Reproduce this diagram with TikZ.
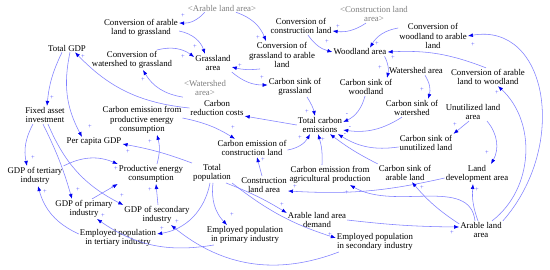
\documentclass[tikz,border=0pt]{standalone}
\usepackage{fontspec}
\setmainfont{Liberation Serif}
\usepackage{tikz}
\usetikzlibrary{arrows.meta}
\definecolor{CLLine}{HTML}{7F7FFF}
\definecolor{CLHead}{HTML}{0000F0}
\definecolor{CLSign}{HTML}{5555FF}
\definecolor{CLShadow}{HTML}{808080}
\newcommand{\CLfont}{\fontsize{8.8}{9.6}\selectfont}

\begin{document}
\begin{tikzpicture}[x=1pt,y=1pt,>=Latex]
\tikzset{mvar/.style={align=center,inner sep=1pt,font=\CLfont},mshadow/.style={mvar,text=CLShadow},mlink/.style={draw=CLLine,line width=.55pt,-{Latex[length=5pt,width=3.8pt,color=CLHead]}},msign/.style={inner sep=0pt,font=\fontsize{6.5}{6.5}\selectfont,text=CLSign}}
\fill[white] (0,0) rectangle (550,-270);
\useasboundingbox (0,0) rectangle (550,-270);
% land use part
\node[mshadow] (arableS) at (222,-8) {<Arable land area>};
\node[mshadow] (constrS) at (374,-14) {<Construction land\\area>};
\node[mvar] (cag) at (141,-28) {Conversion of arable\\land to grassland};
\node[mvar] (ccl) at (301,-26) {Conversion of\\construction land};
\node[mvar] (cwa) at (433,-36) {Conversion of\\woodland to arable\\land};
\node[mvar] (grass) at (213,-63) {Grassland\\area};
\node[mvar] (cga) at (282,-55) {Conversion of\\grassland to arable\\land};
\node[mvar] (wood) at (360,-52) {Woodland area};
\node[mvar] (cwg) at (132,-60) {Conversion of\\watershed to grassland};
\node[mshadow] (watS) at (205,-88) {<Watershed\\area>};
\node[mvar] (wsa) at (416,-71) {Watershed area};
\node[mvar] (caw) at (488,-77) {Conversion of arable\\land to woodland};
\node[mvar] (ula) at (473,-112) {Unutilized land\\area};
\node[mvar] (cla) at (264,-185) {Construction\\land area};
\node[mvar] (lda) at (477,-174) {Land\\development area};
\node[mvar] (alad) at (317,-220) {Arable land area\\demand};
\node[mvar] (ala) at (481,-230) {Arable land\\area};
% carbon part
\node[mvar] (csg) at (295,-87) {Carbon sink of\\grassland};
\node[mvar] (csw) at (366,-87) {Carbon sink of\\woodland};
\node[mvar] (csws) at (412,-108) {Carbon sink of\\watershed};
\node[mvar] (csu) at (426,-143) {Carbon sink of\\unutilized land};
\node[mvar] (csa) at (405,-173) {Carbon sink of\\arable land};
\node[mvar] (tce) at (320,-125) {Total carbon\\emissions};
\node[mvar] (crc) at (217,-108) {Carbon\\reduction costs};
\node[mvar] (cecl) at (252,-148) {Carbon emission of\\construction land};
\node[mvar] (ceap) at (330,-175) {Carbon emission from\\agricultural production};
\node[mvar] (cepe) at (142,-120) {Carbon emission from\\productive energy\\consumption};
% economy part
\node[mvar] (gdp) at (67,-48) {Total GDP};
\node[mvar] (fai) at (45,-115) {Fixed asset\\investment};
\node[mvar] (pcg) at (94,-142) {Per capita GDP};
\node[mvar] (pec) at (151,-174) {Productive energy\\consumption};
\node[mvar] (gdp3) at (35,-176) {GDP of tertiary\\industry};
\node[mvar] (gdp1) at (84,-209) {GDP of primary\\industry};
\node[mvar] (gdp2) at (157,-215) {GDP of secondary\\industry};
\node[mvar] (pop) at (212,-173) {Total\\population};
\node[mvar] (ep3) at (118,-238) {Employed population\\in tertiary industry};
\node[mvar] (ep1) at (245,-235) {Employed population\\in primary industry};
\node[mvar] (ep2) at (375,-242) {Employed population\\in secondary industry};
% links
\draw[mlink] ([xshift=18pt]arableS.south west) to[bend left=25] ([yshift=5pt]cag.east);
\draw[mlink] ([xshift=14pt]arableS.south) to[bend left=25] ([xshift=-16pt]cga.north);
\draw[mlink] ([yshift=-3pt]cag.east) to[bend left=30] ([xshift=-8pt]grass.north);
\draw[mlink] ([xshift=25pt]cwg.north) to[bend left=25] ([yshift=6pt]grass.west);
\draw[mlink] ([xshift=-22pt]cga.south) to[bend left=10] ([yshift=-4pt]grass.east);
\draw[mlink] (grass.south east) to[bend right=20] ([yshift=2pt]csg.west);
\draw[mlink] (watS.south west) to[bend left=25] ([xshift=11pt]cwg.south);
\draw[mlink] ([xshift=-8pt]constrS.south) to[bend left=20] ([yshift=-5pt]ccl.east);
\draw[mlink] ([xshift=7pt]ccl.south) to[bend right=20] (wood.west);
\draw[mlink] ([yshift=8pt]cwa.west) to[bend right=25] ([xshift=10pt]wood.north);
\draw[mlink] ([xshift=-2pt]caw.north) to[bend right=12] (wood.east);
\draw[mlink] ([xshift=-3pt]wood.south east) to[bend left=20] ([xshift=21pt]csw.north);
\draw[mlink] ([xshift=9pt]wsa.south) to[bend left=25] ([xshift=16pt]csws.north);
\draw[mlink] ([xshift=14pt]ula.south) to[bend left=35] ([xshift=14pt]lda.north);
\draw[mlink] ([xshift=-4pt]ula.south) -- (csu.north east);
\draw[mlink] ([yshift=-4pt]lda.west) to[bend left=8] ([yshift=-6pt]cla.east);
\draw[mlink] (alad.east) to[bend right=3] ([yshift=3pt]ala.west);
\draw[mlink] ([yshift=-3pt]ala.north west) to[bend left=8] ([xshift=7pt]csa.south);
\draw[mlink] ([xshift=-3pt]ala.north) to[bend left=12] ([xshift=-4pt]lda.south);
\draw[mlink] ([xshift=-6pt]ala.north) .. controls +(-5,45) and +(45,-26) .. ([xshift=20pt]ceap.south);
\draw[mlink] ([xshift=11pt]ala.north) to[bend right=50] ([xshift=10pt]caw.south);
\draw[mlink] (ala.north east) .. controls +(66,75) and +(80,14) .. (cwa.east);
\draw[mlink] ([xshift=12pt]csg.south) to[bend left=10] ([xshift=-5pt]tce.north);
\draw[mlink] ([xshift=-1pt]csw.south) to[bend left=25] ([yshift=3pt]tce.east);
\draw[mlink] ([xshift=-10pt]csws.south) to[bend left=20] ([yshift=-5pt]tce.east);
\draw[mlink] ([yshift=-4pt]csu.west) to[bend left=20] ([xshift=18pt]tce.south);
\draw[mlink] (csa.north west) to[bend left=5] ([xshift=10pt]tce.south);
\draw[mlink] ([xshift=-8pt]ceap.north) to[bend right=10] ([xshift=-2pt]tce.south);
\draw[mlink] ([yshift=-2pt]cecl.east) to[bend right=25] ([xshift=-10pt]tce.south);
\draw[mlink] ([xshift=-2pt]cla.north) -- ([xshift=5pt]cecl.south);
\draw[mlink] (tce.west) -- ([yshift=1pt]crc.south east);
\draw[mlink] ([yshift=2pt]cepe.east) to[bend left=10] ([xshift=-17pt]cecl.north);
\draw[mlink] (crc.west) to[bend left=20] ([xshift=8pt]gdp.south);
\draw[mlink] ([xshift=-5pt]gdp.south) to[bend right=10] ([xshift=2pt]fai.north);
\draw[mlink] ([xshift=3pt]gdp.south) to[bend right=20] ([xshift=-12pt]pcg.north);
\draw[mlink] ([xshift=-12pt]fai.south) to[bend right=20] ([xshift=-8pt]gdp3.north);
\draw[mlink] ([xshift=-2pt]fai.south) to[bend left=5] ([xshift=-12pt]gdp1.north);
\draw[mlink] ([xshift=3pt]fai.south) to[bend right=20] (gdp2.north west);
\draw[mlink] (gdp3.north east) to[bend left=25] (pec.north west);
\draw[mlink] ([xshift=8pt]gdp1.north) -- (pec.south west);
\draw[mlink] ([xshift=1pt]gdp2.north) -- ([xshift=5pt]pec.south);
\draw[mlink] ([xshift=6pt]pec.north) to[bend right=15] ([xshift=15pt]cepe.south);
\draw[mlink] (pop.north west) to[bend right=5] ([yshift=-2pt]pcg.east);
\draw[mlink] ([xshift=-2pt]pop.south) to[bend left=35] ([yshift=4pt]ep3.east);
\draw[mlink] ([xshift=1pt]pop.south) to[bend right=25] ([xshift=-18pt]ep1.north);
\draw[mlink] ([xshift=-6pt]pop.south east) to[bend left=5] ([yshift=-2pt]alad.north west);
\draw[mlink] (pop.south east) to[bend right=10] ([yshift=4pt]ep2.west);
\draw[mlink] ([yshift=4pt]ep3.west) to[bend left=25] ([xshift=3pt]gdp3.south);
\draw[mlink] ([xshift=8pt]ep1.south west) to[bend left=22] ([xshift=13pt]gdp1.south);
\draw[mlink] ([xshift=3pt]ep2.south west) to[bend left=30] ([xshift=14pt]gdp2.south);
% polarity
\foreach \x/\y [count=\i] in {183/16,258/38,195/47,183/57,240/66,262/78,143/80,83/57,52/98,90/127,33/158,78/190,122/196,116/169,113/188,150/190,150/142,128/152,162/229,232/215,282/205,330/235,45/192,103/216,177/222,452/233,422/188,477/190,347/193,295/187,487/153,455/125,307/112,300/138,323/140,233/128,263/160,497/93,473/45,377/44,393/58,380/68,422/90,327/42,338/27}
  \node[msign] (pp\i) at (\x,-\y) {+};
\foreach \x/\y [count=\i] in {347/115,350/128,345/135}
  \node[msign] (pm\i) at (\x,-\y) {-};
\end{tikzpicture}
\end{document}
